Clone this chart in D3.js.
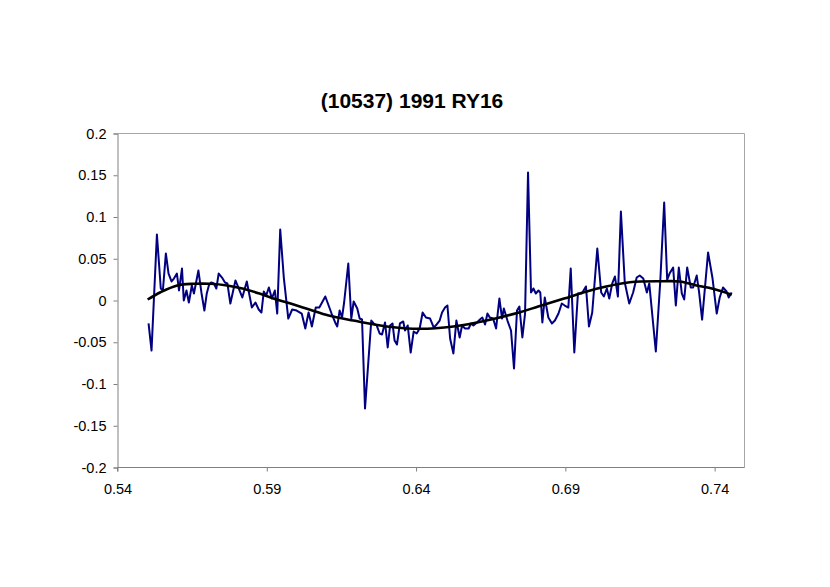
<!DOCTYPE html>
<html>
<head>
<meta charset="utf-8">
<script src="https://cdn.jsdelivr.net/npm/d3@7"></script>
<style>
  html, body { margin: 0; padding: 0; background: #fff; }
  svg { display: block; }
</style>
</head>
<body>
<svg id="chart" width="830" height="587"></svg>
<script>
const title = "(10537) 1991 RY16";

const phase = [
0.5504,0.5514,0.5532,0.5545,0.5552,0.5562,0.5571,0.5581,0.5589,0.5599,
0.5606,0.5616,0.5622,0.5631,0.5639,0.5649,0.5656,0.5671,0.5681,0.5691,
0.5699,0.5706,0.5714,0.5723,0.5731,0.5739,0.5750,0.5760,0.5768,0.5778,
0.5795,0.5806,0.5818,0.5833,0.5850,0.5862,0.5873,0.5882,0.5890,0.5898,
0.5907,0.5917,0.5927,0.5935,0.5945,0.5957,0.5972,0.5985,0.6000,0.6017,
0.6029,0.6040,0.6051,0.6064,0.6076,0.6096,0.6117,0.6129,0.6136,0.6144,
0.6152,0.6159,0.6173,0.6183,0.6191,0.6203,0.6211,0.6219,0.6229,0.6250,
0.6258,0.6268,0.6278,0.6286,0.6296,0.6305,0.6313,0.6321,0.6328,0.6336,
0.6346,0.6357,0.6363,0.6372,0.6382,0.6392,0.6402,0.6412,0.6422,0.6433,
0.6447,0.6459,0.6469,0.6479,0.6487,0.6497,0.6505,0.6514,0.6525,0.6535,
0.6546,0.6554,0.6564,0.6576,0.6584,0.6592,0.6604,0.6614,0.6622,0.6631,
0.6639,0.6647,0.6658,0.6668,0.6679,0.6688,0.6694,0.6706,0.6718,0.6728,
0.6738,0.6746,0.6756,0.6765,0.6775,0.6785,0.6793,0.6801,0.6810,0.6816,
0.6823,0.6831,0.6843,0.6855,0.6865,0.6877,0.6888,0.6898,0.6910,0.6918,
0.6930,0.6942,0.6955,0.6969,0.6979,0.6990,0.7007,0.7020,0.7029,0.7039,
0.7047,0.7057,0.7066,0.7076,0.7086,0.7099,0.7114,0.7127,0.7139,0.7149,
0.7161,0.7173,0.7181,0.7203,0.7218,0.7231,0.7241,0.7249,0.7261,0.7270,
0.7280,0.7290,0.7298,0.7308,0.7320,0.7328,0.7340,0.7348,0.7358,0.7378,
0.7393,0.7407,0.7417,0.7428,0.7440,0.7447,0.7457
];

const mag = [
-0.0275,-0.0599,0.0790,0.0144,0.0120,0.0563,0.0323,0.0228,0.0263,0.0323,
0.0120,0.0383,0.0000,0.0120,-0.0024,0.0180,0.0084,0.0359,0.0096,-0.0120,
0.0084,0.0180,0.0216,0.0204,0.0144,0.0323,0.0275,0.0216,0.0204,-0.0036,
0.0240,0.0144,0.0036,0.0228,-0.0084,-0.0024,-0.0108,-0.0144,0.0108,0.0060,
0.0156,0.0024,0.0120,-0.0156,0.0850,0.0275,-0.0216,-0.0108,-0.0120,-0.0156,
-0.0335,-0.0144,-0.0311,-0.0084,-0.0084,0.0048,-0.0156,-0.0263,-0.0311,-0.0120,
-0.0204,-0.0024,0.0443,-0.0216,-0.0012,-0.0096,-0.0216,-0.0228,-0.1293,-0.0240,
-0.0275,-0.0299,-0.0395,-0.0407,-0.0263,-0.0563,-0.0299,-0.0275,-0.0479,-0.0527,
-0.0275,-0.0251,-0.0359,-0.0299,-0.0623,-0.0371,-0.0395,-0.0335,-0.0144,-0.0204,
-0.0216,-0.0323,-0.0287,-0.0240,-0.0144,-0.0084,-0.0060,-0.0455,-0.0635,-0.0240,
-0.0443,-0.0299,-0.0335,-0.0335,-0.0275,-0.0299,-0.0263,-0.0228,-0.0204,-0.0287,
-0.0156,-0.0204,-0.0216,-0.0335,0.0024,-0.0216,-0.0096,-0.0240,-0.0359,-0.0814,
-0.0120,-0.0072,-0.0443,-0.0156,0.1533,0.0096,0.0144,0.0084,0.0120,0.0096,
-0.0263,0.0036,-0.0204,-0.0275,-0.0240,-0.0156,-0.0036,-0.0060,-0.0084,0.0383,
-0.0623,0.0084,0.0084,0.0168,-0.0311,-0.0144,0.0623,0.0096,0.0048,0.0144,
0.0024,0.0204,0.0287,0.0048,0.1066,0.0216,-0.0036,0.0096,0.0275,0.0299,
0.0263,0.0096,0.0204,-0.0611,0.0240,0.1174,0.0251,0.0323,0.0395,-0.0060,
0.0395,0.0084,0.0012,0.0395,0.0156,0.0156,0.0299,0.0096,-0.0228,0.0575,
0.0263,-0.0156,0.0036,0.0156,0.0108,0.0036,0.0096
];

const fitPhase = [0.5501,0.5544,0.5600,0.5655,0.5711,0.5767,0.5822,0.5878,0.5934,0.5990,
0.6045,0.6107,0.6190,0.6302,0.6413,0.6525,0.6636,0.6748,0.6809,0.6893,
0.7004,0.7116,0.7227,0.7283,0.7339,0.7394,0.7457];
const fitMag = [0.0012,0.0099,0.0180,0.0200,0.0200,0.0180,0.0140,0.0080,0.0012,-0.0048,
-0.0111,-0.0180,-0.0240,-0.0311,-0.0339,-0.0311,-0.0240,-0.0140,-0.0072,0.0020,
0.0140,0.0219,0.0231,0.0228,0.0180,0.0140,0.0070];

const xTicks = [0.54, 0.59, 0.64, 0.69, 0.74];
const yTicks = [0.2, 0.15, 0.1, 0.05, 0, -0.05, -0.1, -0.15, -0.2];

(function () {
const svg = d3.select("#chart");
const mLeft = 117.5, mRight = 744.5, mTop = 133.5, mBottom = 467.5;

const x = d3.scaleLinear().domain([0.54, 0.75]).range([mLeft, mRight]);
const y = d3.scaleLinear().domain([-0.2, 0.2]).range([mBottom, mTop]);

const font = "'Liberation Sans', Arial, sans-serif";

// frame (top and right border)
svg.append("path")
  .attr("d", `M${mLeft},${mTop}H${mRight}V${mBottom}`)
  .attr("fill", "none").attr("stroke", "#a6a6a6").attr("stroke-width", 1);

// y axis
const yAxis = d3.axisLeft(y).tickValues(yTicks).tickSize(4).tickPadding(7)
  .tickFormat(d => String(+d.toFixed(2)));
const gy = svg.append("g").attr("transform", `translate(${mLeft},0)`).call(yAxis);
gy.select(".domain").attr("stroke", "#808080");
gy.selectAll(".tick line").attr("stroke", "#808080");
gy.selectAll("text").attr("font-family", font).attr("font-size", "14.5px").attr("fill", "#000");

// x axis
const xAxis = d3.axisBottom(x).tickValues(xTicks).tickSize(4).tickPadding(12)
  .tickFormat(d => String(+d.toFixed(2)));
const gx = svg.append("g").attr("transform", `translate(0,${mBottom})`).call(xAxis);
gx.select(".domain").attr("stroke", "#808080").attr("d", `M${mLeft},4V0H${mRight}`);
gx.selectAll(".tick line").attr("stroke", "#808080");
gx.selectAll("text").attr("font-family", font).attr("font-size", "14.5px").attr("fill", "#000");

// data line
const pts = phase.map((p, i) => [p, mag[i]]);
svg.append("path")
  .datum(pts)
  .attr("fill", "none")
  .attr("stroke", "#000080")
  .attr("stroke-width", 2)
  .attr("stroke-linejoin", "round")
  .attr("d", d3.line().x(d => x(d[0])).y(d => y(d[1])));

// fit curve
const fpts = fitPhase.map((p, i) => [p, fitMag[i]]);
svg.append("path")
  .datum(fpts)
  .attr("fill", "none")
  .attr("stroke", "#000")
  .attr("stroke-width", 2.6)
  .attr("d", d3.line().curve(d3.curveCatmullRom).x(d => x(d[0])).y(d => y(d[1])));

// title
svg.append("text")
  .attr("x", 412).attr("y", 108)
  .attr("text-anchor", "middle")
  .attr("font-family", font)
  .attr("font-weight", "bold")
  .attr("font-size", "21px")
  .text(title);
})();
</script>
</body>
</html>
